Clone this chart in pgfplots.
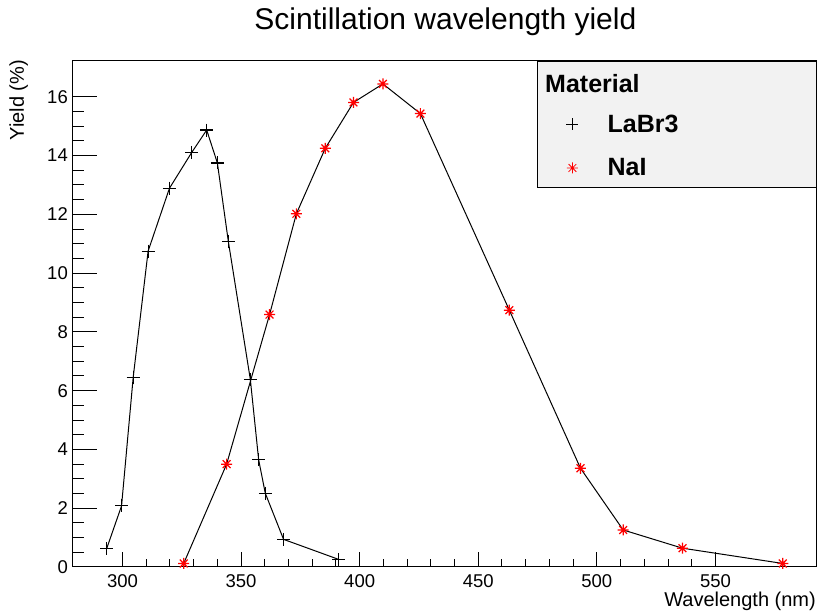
\documentclass[border=0pt]{standalone}
\usepackage{pgfplots}
\pgfplotsset{compat=1.18}
\usepackage{fontspec}
\setmainfont{Liberation Sans}

\pgfdeclareplotmark{rootstar}{%
  \pgfpathmoveto{\pgfqpoint{-\pgfplotmarksize}{0pt}}\pgfpathlineto{\pgfqpoint{\pgfplotmarksize}{0pt}}%
  \pgfpathmoveto{\pgfqpoint{0pt}{-\pgfplotmarksize}}\pgfpathlineto{\pgfqpoint{0pt}{\pgfplotmarksize}}%
  \pgfpathmoveto{\pgfqpoint{-0.707\pgfplotmarksize}{-0.707\pgfplotmarksize}}\pgfpathlineto{\pgfqpoint{0.707\pgfplotmarksize}{0.707\pgfplotmarksize}}%
  \pgfpathmoveto{\pgfqpoint{-0.707\pgfplotmarksize}{0.707\pgfplotmarksize}}\pgfpathlineto{\pgfqpoint{0.707\pgfplotmarksize}{-0.707\pgfplotmarksize}}%
  \pgfusepathqstroke}

\pgfplotsset{
  rootframe/.style={
    scale only axis, width=743.3pt, height=506pt,
    at={(0pt,0pt)}, anchor=south west,
    xmin=279, xmax=592.4, ymin=0, ymax=17.22,
    xtick={300,350,...,550}, ytick={0,2,...,16},
    minor x tick num=4, minor y tick num=3,
    tick pos=left, tick align=inside,
    every tick/.style={line width=1pt, black},
  }
}

\begin{document}
\begin{tikzpicture}
\path[use as bounding box] (-72.7pt,-48pt) rectangle (744.3pt,567pt);
% second frame: only the x ticks (shorter, as in the reference)
\begin{axis}[rootframe,
  axis line style={draw=none},
  major tick length=15pt, minor tick length=7.7pt,
  ytick=\empty, minor ytick=\empty, yticklabels={}, xticklabels={},
]
\end{axis}
\begin{axis}[rootframe,
  major tick length=24pt, minor tick length=11pt,
  xtick style={draw=none}, minor xtick={},
  axis line style={line width=1pt},
  /pgf/number format/assume math mode=true,
  ticklabel style={font=\fontsize{18.5}{18.5}\selectfont, inner sep=0pt},
  xticklabel style={yshift=-7pt},
  yticklabel style={xshift=-4.7pt},
  legend style={draw=none, fill=none, at={(rel axis cs:0.6637,0.8943)}, anchor=north west,
    font=\bfseries\fontsize{25}{25}\selectfont, inner sep=0pt, row sep=25pt,
    nodes={inner sep=0pt}},
  legend cell align=left,
  legend image code/.code={\draw[#1] plot coordinates {(0pt,0pt)}; \path (-6pt,0pt) (35pt,0pt);},
]
\addplot[black, line width=1pt, mark=+, mark size=6.5pt, mark options={line width=1.2pt}, forget plot]
coordinates {(293.3,0.62)(299.6,2.08)(304.5,6.45)(310.8,10.75)(319.8,12.89)(329.2,14.11)(335.5,14.87)(340.0,13.75)(344.6,11.09)(353.9,6.38)(357.4,3.65)(360.2,2.51)(367.9,0.94)(391.1,0.26)};
\addplot[black, line width=1pt, mark=rootstar, mark size=5.5pt, mark options={red, line width=1.2pt}, forget plot]
coordinates {(325.8,0.12)(343.9,3.50)(362.0,8.59)(373.3,12.02)(385.5,14.25)(397.4,15.81)(409.8,16.44)(425.6,15.43)(463.1,8.74)(493.1,3.36)(511.1,1.26)(536.1,0.64)(578.4,0.12)};
\draw[line width=1pt, fill=gray!10] (rel axis cs:0.6256,0.7496) rectangle (rel axis cs:1,0.9986);
\addlegendimage{black, only marks, mark=+, mark size=6pt, mark options={line width=0.8pt}}
\addlegendentry{LaBr3}
\addlegendimage{only marks, mark=rootstar, mark size=5.5pt, mark options={red, line width=0.8pt}}
\addlegendentry{NaI}
\end{axis}
\node[anchor=base west, font=\bfseries\fontsize{25}{25}\selectfont, inner sep=0pt] at (472.3pt,474.3pt) {Material};
\node[anchor=base, font=\fontsize{30}{30}\selectfont, inner sep=0pt] at (372.7pt,537pt) {Scintillation wavelength yield};
\node[anchor=base east, font=\fontsize{20}{20}\selectfont, inner sep=0pt] at (743.3pt,-39.5pt) {Wavelength (nm)};
\node[rotate=90, anchor=base east, font=\fontsize{20}{20}\selectfont, inner sep=0pt] at (-48.7pt,507pt) {Yield (\%)};
\end{tikzpicture}
\end{document}
